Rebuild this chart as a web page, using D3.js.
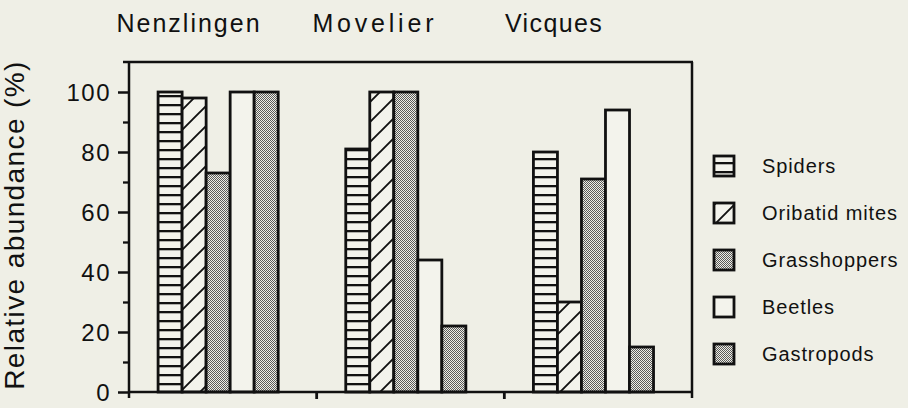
<!DOCTYPE html>
<html>
<head>
<meta charset="utf-8">
<script src="https://cdn.jsdelivr.net/npm/d3@7"></script>
<style>
  html, body { margin: 0; padding: 0; background: #efefe6; }
  svg { display: block; font-family: "Liberation Sans", Arial, Helvetica, sans-serif; }
</style>
</head>
<body>
<svg id="chart" width="908" height="408"></svg>
<script>
// ---- data ----
const sites = ["Nenzlingen", "Movelier", "Vicques"];
const groups = ["Spiders", "Oribatid mites", "Grasshoppers", "Beetles", "Gastropods"];
const spiders = [100, 81, 80];
const oribatidMites = [98, 100, 30];
const grasshoppers = [73, 100, 71];
const beetles = [100, 44, 94];
const gastropods = [100, 22, 15];
const yTicks = [0, 20, 40, 60, 80, 100];
const yMinorTicks = [10, 30, 50, 70, 90];
const yLabel = "Relative abundance (%)";

const seriesValues = [spiders, oribatidMites, grasshoppers, beetles, gastropods];

// ---- layout / style ----
const patternIds = ["pSpiders", "pMites", "pStipple", "pBlank", "pStipple"];
const titleShift = [0.32, 0.31, 0.265];
const titleSpacing = [2, 3.8, 1.4];
const bg = "#efefe6";
const ink = "#111";

const svg = d3.select("#chart");
const defs = svg.append("defs");

// horizontal stripes
const ps = defs.append("pattern").attr("id", "pSpiders").attr("patternUnits", "userSpaceOnUse")
  .attr("width", 10).attr("height", 9).attr("y", 392);
ps.append("rect").attr("width", 10).attr("height", 9).attr("fill", "#f3f3ec");
ps.append("rect").attr("y", 0).attr("width", 10).attr("height", 2.3).attr("fill", ink);

// diagonal lines
const pm = defs.append("pattern").attr("id", "pMites").attr("patternUnits", "userSpaceOnUse")
  .attr("width", 20).attr("height", 20).attr("y", 392);
pm.append("rect").attr("width", 20).attr("height", 20).attr("fill", "#f3f3ec");
pm.append("path").attr("d", "M-2,22 L22,-2 M-12,12 L12,-12 M8,32 L32,8")
  .attr("stroke", ink).attr("stroke-width", 1.9);

// stipple
const pst = defs.append("pattern").attr("id", "pStipple").attr("patternUnits", "userSpaceOnUse")
  .attr("width", 2).attr("height", 2);
pst.append("rect").attr("width", 2).attr("height", 2).attr("fill", "#eeeee6");
pst.append("rect").attr("x", 0).attr("y", 0).attr("width", 1).attr("height", 1).attr("fill", "#5a5a5a");
pst.append("rect").attr("x", 1).attr("y", 1).attr("width", 1).attr("height", 1).attr("fill", "#5a5a5a");

// blank
const pb = defs.append("pattern").attr("id", "pBlank").attr("patternUnits", "userSpaceOnUse")
  .attr("width", 4).attr("height", 4);
pb.append("rect").attr("width", 4).attr("height", 4).attr("fill", "#f3f3ec");

// ---- scales ----
const plotLeft = 129, plotRight = 692, plotTop = 62, plotBottom = 392;
const y = d3.scaleLinear().domain([0, 110]).range([plotBottom, plotTop]);
const x0 = d3.scaleBand().domain(sites).range([plotLeft, plotRight]);
const bw = x0.bandwidth();
const x1 = d3.scaleBand().domain(groups).range([bw * 0.155, bw * 0.795]);

// ---- bars ----
const barData = [];
sites.forEach((s, si) => groups.forEach((g, gi) => barData.push({ site: s, group: g, gi, value: seriesValues[gi][si] })));

svg.append("g").selectAll("rect").data(barData).join("rect")
  .attr("x", d => x0(d.site) + x1(d.group))
  .attr("y", d => y(d.value))
  .attr("width", x1.bandwidth())
  .attr("height", d => y(0) - y(d.value))
  .attr("fill", d => `url(#${patternIds[d.gi]})`)
  .attr("stroke", ink).attr("stroke-width", 2.8);

// ---- frame ----
const frame = svg.append("g").attr("stroke", ink).attr("stroke-width", 2.5).attr("fill", "none");
frame.append("line").attr("x1", plotLeft - 6).attr("x2", plotRight + 1).attr("y1", plotTop).attr("y2", plotTop);
frame.append("line").attr("x1", plotRight).attr("x2", plotRight).attr("y1", plotTop).attr("y2", plotBottom + 6);
frame.append("line").attr("x1", plotLeft).attr("x2", plotRight).attr("y1", plotBottom).attr("y2", plotBottom);
frame.append("line").attr("x1", plotLeft).attr("x2", plotLeft).attr("y1", plotTop).attr("y2", plotBottom + 6);
frame.selectAll("line.sep").data(sites.slice(1)).join("line").attr("class", "sep")
  .attr("x1", d => x0(d)).attr("x2", d => x0(d))
  .attr("y1", plotBottom).attr("y2", plotBottom + 7).attr("stroke-width", 2.8);

// ---- y axis ----
const yAxis = d3.axisLeft(y).tickValues(yTicks).tickSize(11).tickPadding(7).tickFormat(d3.format("d"));
const ga = svg.append("g").attr("transform", `translate(${plotLeft},0)`).call(yAxis);
ga.select(".domain").remove();
ga.selectAll(".tick line").attr("stroke", ink).attr("stroke-width", 2.5);
ga.selectAll(".tick text").attr("fill", ink).style("font-size", "24px")
  .style("letter-spacing", "1.5px").attr("dy", "0.36em");

const gm = svg.append("g").attr("transform", `translate(${plotLeft},0)`)
  .call(d3.axisLeft(y).tickValues(yMinorTicks).tickSize(6).tickFormat(""));
gm.select(".domain").remove();
gm.selectAll(".tick line").attr("stroke", ink).attr("stroke-width", 2.3);

// y label
svg.append("text")
  .attr("transform", `translate(24, 225) rotate(-90)`)
  .attr("text-anchor", "middle")
  .attr("fill", ink)
  .style("font-size", "28px")
  .style("letter-spacing", "1.4px")
  .text(yLabel);

// ---- site titles ----
svg.append("g").selectAll("text").data(sites).join("text")
  .attr("x", (d, i) => x0(d) + bw * titleShift[i])
  .attr("y", 32)
  .attr("text-anchor", "middle")
  .attr("fill", ink)
  .style("font-size", "25px")
  .style("letter-spacing", (d, i) => titleSpacing[i] + "px")
  .text(d => d);

// ---- legend ----
const lg = svg.append("g").selectAll("g").data(groups).join("g")
  .attr("transform", (d, i) => `translate(714, ${166 + i * 47})`);
lg.append("rect").attr("x", 0).attr("y", -10).attr("width", 20).attr("height", 20)
  .attr("fill", (d, i) => `url(#${patternIds[i]})`)
  .attr("stroke", ink).attr("stroke-width", 2.8);
lg.append("text").attr("x", 48).attr("y", 0).attr("dy", "0.35em")
  .attr("fill", ink).style("font-size", "20px").style("letter-spacing", "0.9px")
  .text(d => d);
</script>
</body>
</html>
